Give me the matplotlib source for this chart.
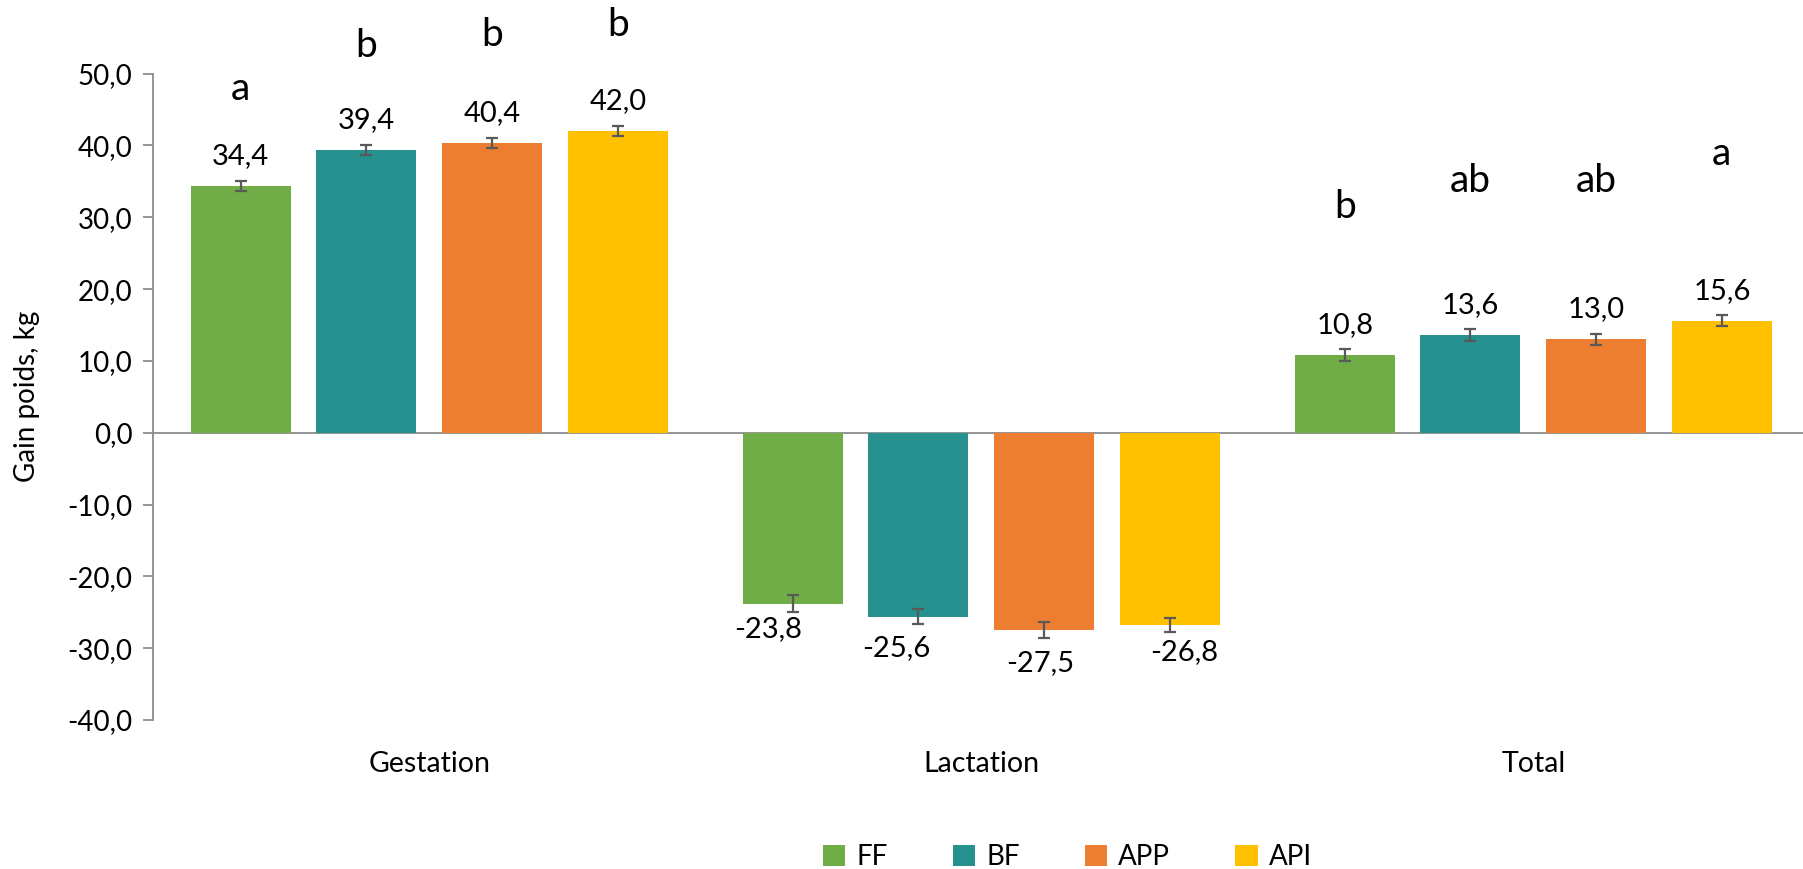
import numpy as np
import matplotlib.pyplot as plt

plt.rcParams['font.family'] = ['Lato', 'DejaVu Sans']

periods = ["Gestation", "Lactation", "Total"]
groups = ["FF", "BF", "APP", "API"]
FF = [34.4, -23.8, 10.8]
BF = [39.4, -25.6, 13.6]
APP = [40.4, -27.5, 13.0]
API = [42.0, -26.8, 15.6]
FF_err = [0.7, 1.15, 0.8]
BF_err = [0.7, 1.1, 0.8]
APP_err = [0.7, 1.1, 0.8]
API_err = [0.7, 1.0, 0.8]
letters = [["a", "", "b"], ["b", "", "ab"], ["b", "", "ab"], ["b", "", "a"]]
letter_y = [[47.8, 0, 31.4], [53.8, 0, 35.1], [55.4, 0, 35.1], [56.7, 0, 38.8]]

values = [FF, BF, APP, API]
errors = [FF_err, BF_err, APP_err, API_err]
colors = ['#70AD47', '#26918F', '#ED7D31', '#FFC000']
# label nudges (points) for the negative Lactation labels
neg_dx = [-18, -16, -2.5, 10]
neg_dy = [-18, -23, -23.4, -19.4]

fig = plt.figure(figsize=(18.03, 8.69), dpi=100)
ax = fig.add_axes([0.085, 0.1715, 0.9185, 0.7438])

xpos = np.arange(len(periods))
width = 0.181
pitch = 0.2277
for i in range(len(groups)):
    x = xpos + (i - 1.5) * pitch
    ax.bar(x, values[i], width, color=colors[i], label=groups[i], zorder=2)
    ax.errorbar(x, values[i], yerr=errors[i], fmt='none', ecolor='#595959',
                elinewidth=1.6, capsize=4.3, capthick=1.6, zorder=3)
    for j in range(len(periods)):
        v = values[i][j]
        lab = ("%.1f" % v).replace('.', ',')
        if v >= 0:
            ax.annotate(lab, (x[j], v), xytext=(0, 21.5),
                        textcoords='offset points', ha='center', va='center',
                        fontsize=21)
        else:
            ax.annotate(lab, (x[j], v), xytext=(neg_dx[i], neg_dy[i]),
                        textcoords='offset points', ha='center', va='center',
                        fontsize=21)
        if letters[i][j]:
            ax.text(x[j], letter_y[i][j], letters[i][j], ha='center',
                    va='center', fontsize=28, clip_on=False)

ax.axhline(0, color='#8c8c8c', linewidth=1.3, zorder=1)
ax.set_xlim(-0.5, 2.5)
ax.set_ylim(-40, 50)
ax.set_yticks(np.arange(-40, 51, 10))
ax.set_yticklabels([("%.1f" % t).replace('.', ',') for t in np.arange(-40, 51, 10)],
                   fontsize=20)
ax.set_xticks(xpos)
ax.set_xticklabels(periods, fontsize=20.5)
ax.tick_params(axis='x', length=0, pad=22)
ax.tick_params(axis='y', length=7, color='#8c8c8c', width=1.3, pad=8)
for s in ['top', 'right', 'bottom']:
    ax.spines[s].set_visible(False)
ax.spines['left'].set_color('#8c8c8c')
ax.spines['left'].set_linewidth(1.3)
ax.set_ylabel('Gain poids, kg', fontsize=20, labelpad=20)

fig.legend(loc='lower center', bbox_to_anchor=(0.592, -0.03), ncol=4,
           frameon=False, fontsize=20, handlelength=0.8, handleheight=0.8,
           columnspacing=2.35, handletextpad=0.4)

plt.savefig('out.png', dpi=100)
